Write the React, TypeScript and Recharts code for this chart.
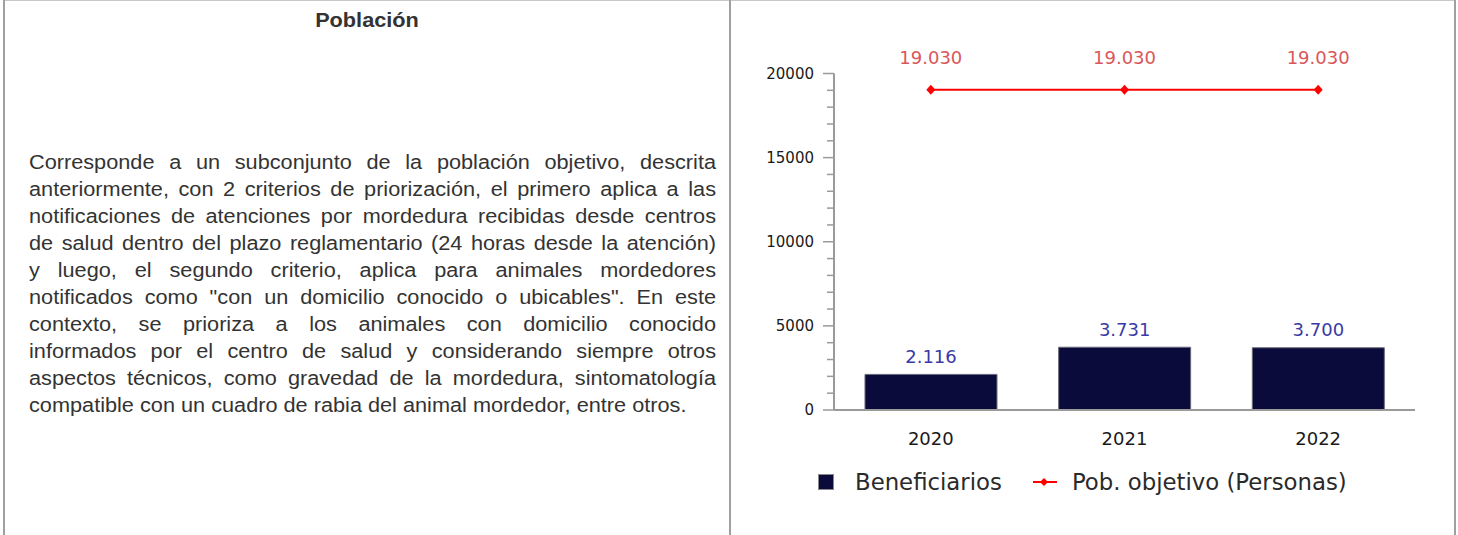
import { ComposedChart, Bar, Line, XAxis, YAxis, Legend, LabelList } from 'recharts';

const years = ['2020', '2021', '2022'];
const beneficiarios = [2116, 3731, 3700];
const poblacionObjetivo = [19030, 19030, 19030];
const yTicks = [
  0, 1000, 2000, 3000, 4000, 5000, 6000, 7000, 8000, 9000, 10000,
  11000, 12000, 13000, 14000, 15000, 16000, 17000, 18000, 19000, 20000,
];

const paragraphLines = [
  'Corresponde a un subconjunto de la población objetivo, descrita',
  'anteriormente, con 2 criterios de priorización, el primero aplica a las',
  'notificaciones de atenciones por mordedura recibidas desde centros',
  'de salud dentro del plazo reglamentario (24 horas desde la atención)',
  'y luego, el segundo criterio, aplica para animales mordedores',
  'notificados como "con un domicilio conocido o ubicables". En este',
  'contexto, se prioriza a los animales con domicilio conocido',
  'informados por el centro de salud y considerando siempre otros',
  'aspectos técnicos, como gravedad de la mordedura, sintomatología',
  'compatible con un cuadro de rabia del animal mordedor, entre otros.',
];

const data = years.map((year, i) => ({
  year,
  beneficiarios: beneficiarios[i],
  poblacion: poblacionObjetivo[i],
}));

const BAR_COLOR = '#0b0b3b';
const LINE_COLOR = '#ff0000';
const AXIS_COLOR = '#9a9a9a';
const CHART_FONT = '"DejaVu Sans", Verdana, sans-serif';
const TEXT_FONT = '"Liberation Sans", Arial, sans-serif';
// el texto del original viene algo estirado a lo ancho
const STRETCH = 1.085;

// miles con punto, como en el original
function fmt(n: number) {
  return String(n).replace(/\B(?=(\d{3})+(?!\d))/g, '.');
}

function YTick(props: any) {
  const { x, y, payload } = props;
  const major = payload.value % 5000 === 0;
  return (
    <g>
      <line x1={x - (major ? 11 : 7)} x2={x} y1={y} y2={y} stroke={AXIS_COLOR} strokeWidth={1.5} />
      {major && (
        <text
          x={x - 20}
          y={y}
          textAnchor="end"
          dominantBaseline="central"
          fontFamily={CHART_FONT}
          fontSize={15}
          fill="#1a1a1a"
        >
          {payload.value}
        </text>
      )}
    </g>
  );
}

function XTick(props: any) {
  const { x, y, payload } = props;
  return (
    <text
      x={x}
      y={y + 28}
      textAnchor="middle"
      dominantBaseline="central"
      fontFamily={CHART_FONT}
      fontSize={18}
      fill="#1a1a1a"
    >
      {payload.value}
    </text>
  );
}

function BarLabel(props: any) {
  const { x, y, width, value } = props;
  return (
    <text
      x={x + width / 2}
      y={y - 18}
      textAnchor="middle"
      dominantBaseline="central"
      fontFamily={CHART_FONT}
      fontSize={18}
      fill="#3a3aa6"
    >
      {fmt(value)}
    </text>
  );
}

function LineLabel(props: any) {
  const { x, y, value } = props;
  return (
    <text
      x={x}
      y={y - 32}
      textAnchor="middle"
      dominantBaseline="central"
      fontFamily={CHART_FONT}
      fontSize={18}
      fill="#d9575a"
    >
      {fmt(value)}
    </text>
  );
}

function Diamond(props: any) {
  const { cx, cy } = props;
  if (cx == null || cy == null) return null;
  return <path d={`M${cx},${cy - 5} L${cx + 4.5},${cy} L${cx},${cy + 5} L${cx - 4.5},${cy} Z`} fill={LINE_COLOR} />;
}

function LegendContent() {
  const textStyle = { fontFamily: CHART_FONT, fontSize: 22.8, color: '#2a2a2a', lineHeight: '40px' };
  return (
    <div style={{ display: 'flex', alignItems: 'center', height: 40, paddingLeft: 87 }}>
      <div style={{ width: 14, height: 14, background: BAR_COLOR, border: '1px solid #888', marginRight: 21 }} />
      <span style={textStyle}>Beneficiarios</span>
      <svg width={26} height={14} style={{ marginLeft: 30, marginRight: 14 }}>
        <line x1={1} x2={25} y1={7} y2={7} stroke={LINE_COLOR} strokeWidth={2} />
        <path d="M12,3 L16,7 L12,11 L8,7 Z" fill={LINE_COLOR} />
      </svg>
      <span style={textStyle}>Pob. objetivo (Personas)</span>
    </div>
  );
}

export default function App() {
  return (
    <div style={{ position: 'fixed', left: 0, top: 0, width: 1458, height: 535, background: '#fff', overflow: 'hidden' }}>
      {/* bordes de la tabla */}
      <div style={{ position: 'absolute', left: 3, top: 0, width: 1453, height: 1, background: '#c8c8c8' }} />
      <div style={{ position: 'absolute', left: 3, top: 0, width: 2, height: 535, background: '#a0a0a0' }} />
      <div style={{ position: 'absolute', left: 729, top: 0, width: 2, height: 535, background: '#a0a0a0' }} />
      <div style={{ position: 'absolute', left: 1454, top: 0, width: 2, height: 535, background: '#a0a0a0' }} />

      <div
        style={{
          position: 'absolute',
          left: 5,
          width: 724,
          top: 8,
          textAlign: 'center',
          fontFamily: TEXT_FONT,
          fontWeight: 'bold',
          fontSize: 20,
          lineHeight: '24px',
          color: '#333',
          transform: `scaleX(${STRETCH})`,
        }}
      >
        Población
      </div>

      <div
        style={{
          position: 'absolute',
          left: 29,
          top: 148.5,
          width: 687 / STRETCH,
          fontFamily: TEXT_FONT,
          fontSize: 20,
          lineHeight: '27.1px',
          color: '#333',
          transform: `scaleX(${STRETCH})`,
          transformOrigin: 'left top',
        }}
      >
        {paragraphLines.map((line, i) => (
          <div
            key={i}
            style={{
              textAlign: 'justify',
              textAlignLast: i < paragraphLines.length - 1 ? 'justify' : 'left',
              whiteSpace: 'nowrap',
            }}
          >
            {line}
          </div>
        ))}
      </div>

      <div style={{ position: 'absolute', left: 731, top: 0 }}>
        <ComposedChart
          width={723}
          height={535}
          data={data}
          margin={{ top: 73.5, right: 39, bottom: 33, left: 43 }}
          barCategoryGap="16%"
        >
          <XAxis
            dataKey="year"
            tick={<XTick />}
            tickLine={false}
            tickSize={0}
            tickMargin={0}
            height={52}
            axisLine={{ stroke: AXIS_COLOR, strokeWidth: 2 }}
          />
          <YAxis
            domain={[0, 20000]}
            ticks={yTicks}
            interval={0}
            tick={<YTick />}
            tickLine={false}
            tickSize={0}
            tickMargin={0}
            width={60}
            axisLine={{ stroke: AXIS_COLOR, strokeWidth: 2 }}
          />
          <Legend verticalAlign="bottom" content={<LegendContent />} wrapperStyle={{ left: 0, width: 723, height: 40 }} />
          <Bar dataKey="beneficiarios" name="Beneficiarios" fill={BAR_COLOR} stroke="#6a6a7a" strokeWidth={1} isAnimationActive={false}>
            <LabelList dataKey="beneficiarios" content={<BarLabel />} />
          </Bar>
          <Line
            dataKey="poblacion"
            name="Pob. objetivo (Personas)"
            stroke={LINE_COLOR}
            strokeWidth={2}
            dot={<Diamond />}
            activeDot={false}
            isAnimationActive={false}
          >
            <LabelList dataKey="poblacion" content={<LineLabel />} />
          </Line>
        </ComposedChart>
      </div>
    </div>
  );
}
